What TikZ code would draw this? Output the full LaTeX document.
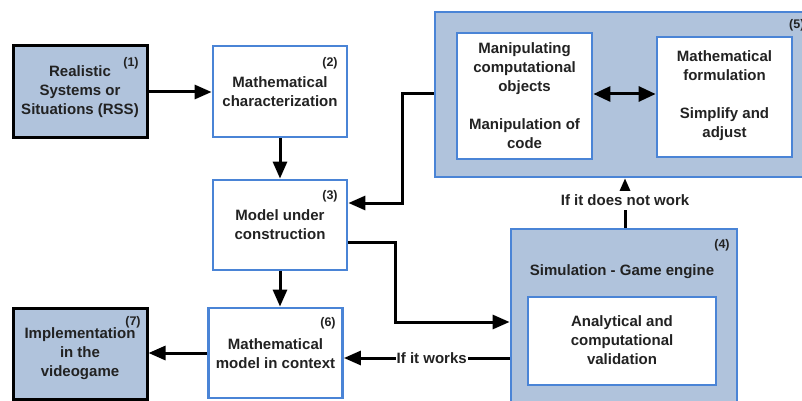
\documentclass[tikz,border=0pt]{standalone}
\usepackage{fontspec}
\setmainfont{Liberation Sans}
\usetikzlibrary{arrows.meta}
\definecolor{boxfill}{HTML}{B0C3DC}
\definecolor{boxblue}{HTML}{4A84D6}
\definecolor{txt}{HTML}{222222}
\begin{document}
\begin{tikzpicture}[x=1pt,y=-1pt,
  lbl/.style={font=\fontsize{15}{19}\selectfont\bfseries, text=txt, align=center},
  num/.style={font=\fontsize{12.5}{14}\selectfont\bfseries, text=txt, inner sep=0pt},
  blackbox/.style={draw=black, line width=3pt, fill=boxfill, inner sep=0pt},
  bluebox/.style={draw=boxblue, line width=2.8pt, fill=white, inner sep=0pt},
  bigbox/.style={draw=boxblue, line width=2.8pt, fill=boxfill, inner sep=0pt},
  arr/.style={line width=3pt, -{Triangle[length=17pt,width=14pt]}},
  dblarr/.style={line width=3pt, {Triangle[length=17pt,width=15pt]}-{Triangle[length=17pt,width=15pt]}},
  tag/.style={font=\fontsize{15}{17}\selectfont\bfseries, text=txt, fill=white, inner sep=1pt}]
\useasboundingbox (0,0) rectangle (802,401);
\clip (0,0) rectangle (802,401);
\fill[white] (0,0) rectangle (802,401);

% big containers
\node[bigbox, minimum width=376pt, minimum height=165pt] (b5) at (623,94.5) {};
\node[bigbox, minimum width=226pt, minimum height=182pt] (b4) at (624,320) {};

% boxes
\node[blackbox, minimum width=134pt, minimum height=91pt] (b1) at (80,91.5) {};
\node[lbl] (t1) at (80,92) {Realistic\\Systems or\\Situations (RSS)};
\node[num] (n1) at (131,63) {(1)};

\node[bluebox, minimum width=134pt, minimum height=91pt] (b2) at (280,91.5) {};
\node[lbl] (t2) at (280,92) {Mathematical\\characterization};
\node[num] (n2) at (330,63) {(2)};

\node[bluebox, minimum width=134pt, minimum height=90pt] (b3) at (280,225) {};
\node[lbl] (t3) at (280,224.5) {Model under\\construction};
\node[num] (n3) at (330,196) {(3)};

\node[bluebox, minimum width=134pt, minimum height=90pt] (b6) at (275.5,353) {};
\node[lbl] (t6) at (275.5,354) {Mathematical\\model in context};
\node[num] (n6) at (328,323) {(6)};

\node[blackbox, minimum width=134pt, minimum height=91pt] (b7) at (80,353.5) {};
\node[lbl] (t7) at (80,353.5) {Implementation\\in the\\videogame};
\node[num] (n7) at (133,322) {(7)};

% inside 5
\node[bluebox, minimum width=135pt, minimum height=126pt] (b5l) at (524.5,96) {};
\node[lbl] (t5l) at (524.5,96) {Manipulating\\computational\\objects\\[19pt]Manipulation of\\code};
\node[bluebox, minimum width=135pt, minimum height=120pt] (b5r) at (724.5,97) {};
\node[lbl] (t5r) at (724.5,96) {Mathematical\\formulation\\[19pt]Simplify and\\adjust};
\node[num, anchor=west] (n5) at (789,25) {(5)};

% inside 4
\node[lbl] (t4h) at (622,272) {Simulation - Game engine};
\node[num] (n4) at (722,245) {(4)};
\node[bluebox, minimum width=188pt, minimum height=88pt] (b4i) at (622,341) {};
\node[lbl] (t4i) at (622,340.5) {Analytical and\\computational\\validation};

% helper coordinates
\coordinate (y92) at (0,92);
\coordinate (y94) at (0,94);
\coordinate (y203) at (0,203);
\coordinate (y242) at (0,242);
\coordinate (y322) at (0,322);
\coordinate (y358) at (0,358);
\coordinate (y353) at (0,353);
\coordinate (xa) at (402,0);
\coordinate (xb) at (395,0);
\coordinate (xc) at (625,0);

% connectors
\draw[arr] (b1.east |- y92) -- (b2.west |- y92);
\draw[arr] (b2.south) -- (b3.north);
\draw[arr] (b3.south) -- (b6.north -| b3.south);
\draw[arr] (b6.west |- y353) -- (b7.east |- y353);
\draw[arr] (b5.west |- y94) -- (xa |- y94) -- (xa |- y203) -- (b3.east |- y203);
\draw[arr] (b3.east |- y242) -- (xb |- y242) -- (xb |- y322) -- (b4.west |- y322);
\draw[arr] (b4.west |- y358) -- node[tag, pos=0.47] (lw) {If it works} (b6.east |- y358);
\draw[arr] (b4.north -| xc) -- node[tag, pos=0.55, inner ysep=4pt] (ln) {If it does not work} (b5.south -| xc);
\draw[dblarr] (b5l.east |- y94) -- (b5r.west |- y94);
\end{tikzpicture}
\end{document}
